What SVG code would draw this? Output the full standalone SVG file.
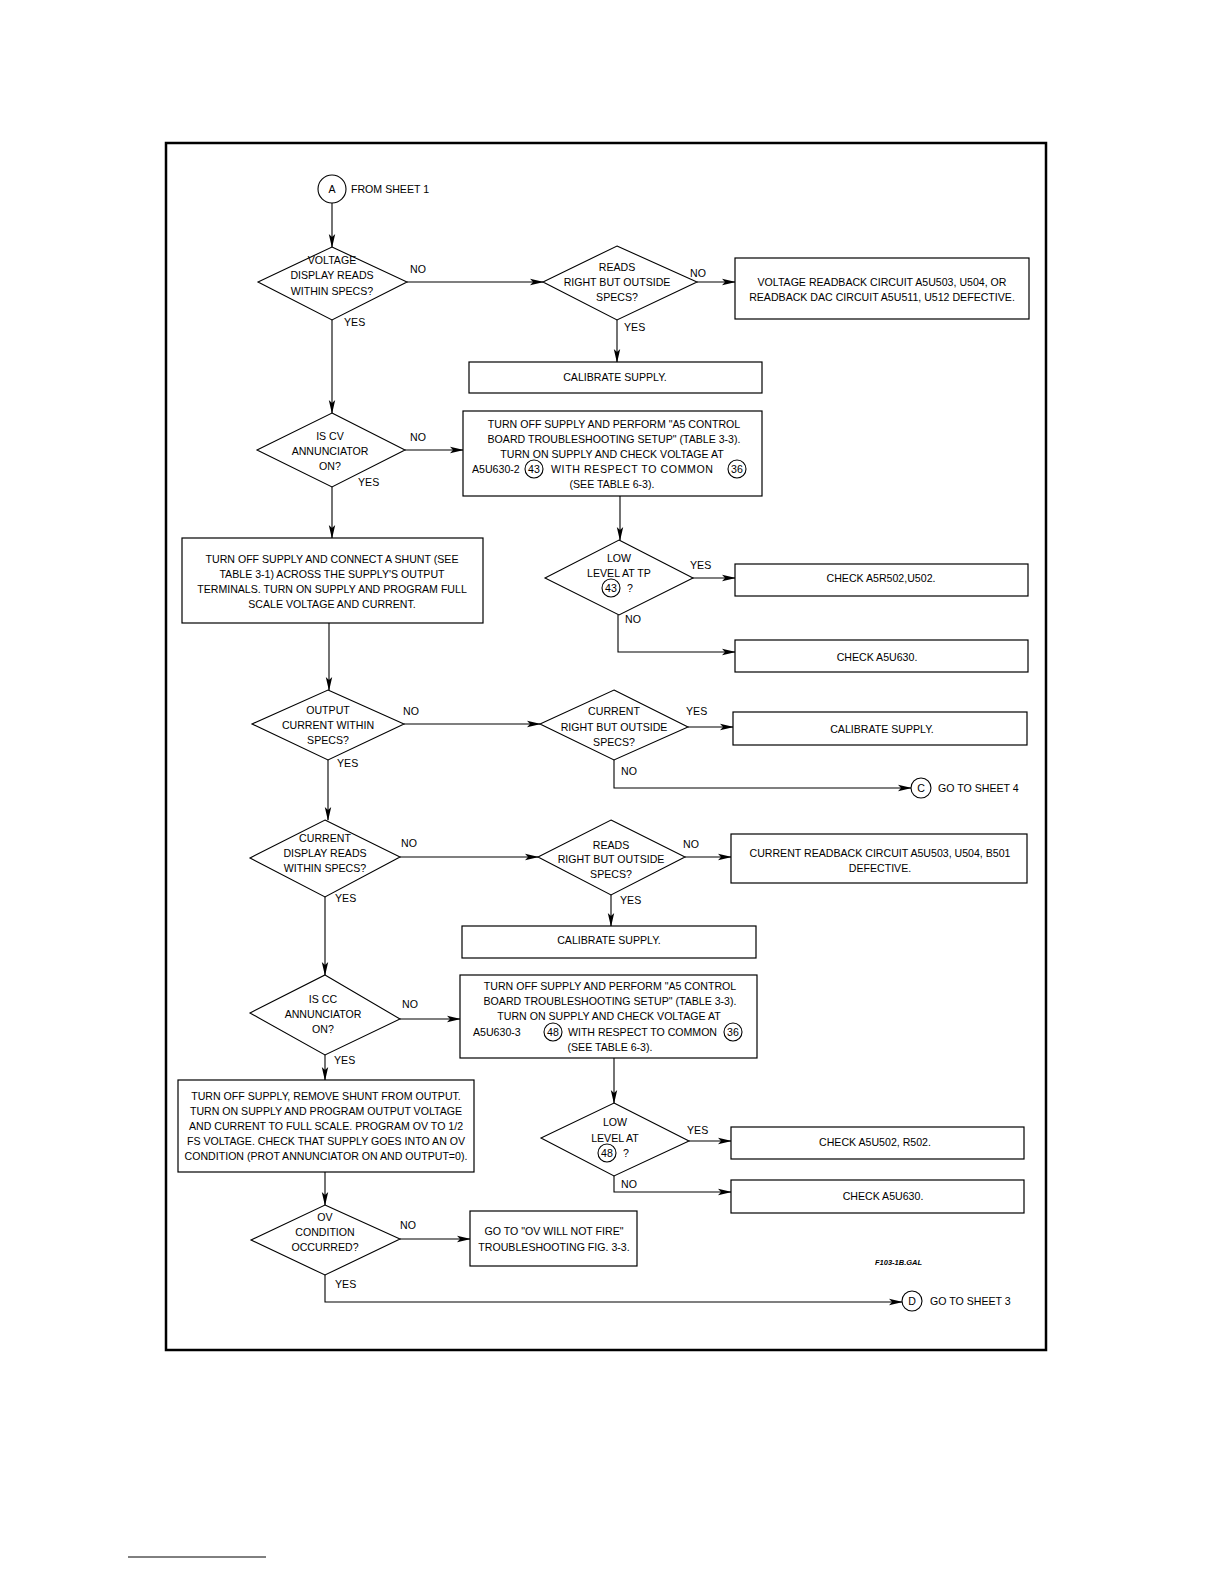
<svg xmlns="http://www.w3.org/2000/svg" width="1224" height="1584" viewBox="0 0 1224 1584">
<defs>
<marker id="ah" markerWidth="14" markerHeight="8" refX="13" refY="4" orient="auto" markerUnits="userSpaceOnUse">
<path d="M0,0.8 L14,4 L0,7.2 L3,4 Z" fill="#000"/>
</marker>
</defs>
<style>
text{font-family:"Liberation Sans",Arial,sans-serif;font-size:10.6px;fill:#000;}
.c{text-anchor:middle;}
.box{fill:#fff;stroke:#000;stroke-width:1.2;}
.dia{fill:#fff;stroke:#000;stroke-width:1.1;}
.ln{fill:none;stroke:#000;stroke-width:1.1;}
.ar{fill:none;stroke:#000;stroke-width:1.1;marker-end:url(#ah);}
.cir{fill:#fff;stroke:#000;stroke-width:1.1;}
</style>
<rect width="1224" height="1584" fill="#fff"/>
<rect x="166" y="143" width="880" height="1207" fill="none" stroke="#000" stroke-width="2.5"/>
<line x1="128" y1="1557" x2="266" y2="1557" stroke="#000" stroke-width="1"/>

<g id="connectors">
<line class="ar" x1="332" y1="203" x2="332" y2="247"/>
<line class="ar" x1="407" y1="282" x2="543" y2="282"/>
<line class="ar" x1="697" y1="282" x2="735" y2="282"/>
<line class="ar" x1="617" y1="320" x2="617" y2="362"/>
<line class="ar" x1="332" y1="320" x2="332" y2="413"/>
<line class="ar" x1="405" y1="450" x2="463" y2="450"/>
<line class="ar" x1="620" y1="496" x2="620" y2="540"/>
<line class="ar" x1="692" y1="578" x2="735" y2="578"/>
<polyline class="ar" points="618,615 618,652 735,652"/>
<line class="ar" x1="332" y1="487" x2="332" y2="538"/>
<line class="ar" x1="329" y1="623" x2="329" y2="690"/>
<line class="ar" x1="404" y1="724" x2="540" y2="724"/>
<line class="ar" x1="688" y1="727" x2="733" y2="727"/>
<polyline class="ar" points="614,760 614,788 911,788"/>
<line class="ar" x1="328" y1="760" x2="328" y2="820"/>
<line class="ar" x1="400" y1="857" x2="538" y2="857"/>
<line class="ar" x1="685" y1="857" x2="731" y2="857"/>
<line class="ar" x1="611" y1="895" x2="611" y2="926"/>
<line class="ar" x1="325" y1="897" x2="325" y2="975"/>
<line class="ar" x1="400" y1="1019" x2="460" y2="1019"/>
<line class="ar" x1="614" y1="1058" x2="614" y2="1103"/>
<line class="ar" x1="689" y1="1141" x2="731" y2="1141"/>
<polyline class="ar" points="614,1176 614,1192 731,1192"/>
<line class="ar" x1="325" y1="1055" x2="325" y2="1080"/>
<line class="ar" x1="325" y1="1172" x2="325" y2="1205"/>
<line class="ar" x1="400" y1="1239" x2="470" y2="1239"/>
<polyline class="ar" points="325,1275 325,1302 902,1302"/>
<text x="410" y="273">NO</text>
<text x="690" y="277">NO</text>
<text x="344" y="326">YES</text>
<text x="624" y="331">YES</text>
<text x="410" y="441">NO</text>
<text x="358" y="486">YES</text>
<text x="690" y="569">YES</text>
<text x="625" y="623">NO</text>
<text x="403" y="715">NO</text>
<text x="686" y="715">YES</text>
<text x="337" y="767">YES</text>
<text x="621" y="775">NO</text>
<text x="401" y="847">NO</text>
<text x="683" y="848">NO</text>
<text x="335" y="902">YES</text>
<text x="620" y="904">YES</text>
<text x="402" y="1008">NO</text>
<text x="334" y="1064">YES</text>
<text x="687" y="1134">YES</text>
<text x="621" y="1188">NO</text>
<text x="400" y="1229">NO</text>
<text x="335" y="1288">YES</text>
</g>

<g id="startA">
<circle class="cir" cx="332" cy="189" r="14"/>
<text class="c" x="332" y="193">A</text>
<text x="351" y="193">FROM SHEET 1</text>
</g>

<g id="d1">
<polygon class="dia" points="332,247 407,282 332,320 258,282"/>
<text class="c" x="332" y="264">VOLTAGE</text>
<text class="c" x="332" y="279">DISPLAY READS</text>
<text class="c" x="332" y="295">WITHIN SPECS?</text>
</g>

<g id="d2">
<polygon class="dia" points="617,246 697,282 617,320 543,282"/>
<text class="c" x="617" y="271">READS</text>
<text class="c" x="617" y="286">RIGHT BUT OUTSIDE</text>
<text class="c" x="617" y="301">SPECS?</text>
</g>

<g id="b1">
<rect class="box" x="735" y="258" width="294" height="61"/>
<text class="c" x="882" y="286">VOLTAGE READBACK CIRCUIT A5U503, U504, OR</text>
<text class="c" x="882" y="301">READBACK DAC CIRCUIT A5U511, U512 DEFECTIVE.</text>
</g>

<g id="b2">
<rect class="box" x="469" y="362" width="293" height="31"/>
<text class="c" x="615" y="381">CALIBRATE SUPPLY.</text>
</g>

<g id="d3">
<polygon class="dia" points="332,413 405,450 332,487 257,450"/>
<text class="c" x="330" y="440">IS CV</text>
<text class="c" x="330" y="455">ANNUNCIATOR</text>
<text class="c" x="330" y="470">ON?</text>
</g>

<g id="b3">
<rect class="box" x="463" y="411" width="299" height="85"/>
<text class="c" x="614" y="428">TURN OFF SUPPLY AND PERFORM "A5 CONTROL</text>
<text class="c" x="614" y="443">BOARD TROUBLESHOOTING SETUP" (TABLE 3-3).</text>
<text class="c" x="612" y="458">TURN ON SUPPLY AND CHECK VOLTAGE AT</text>
<text x="472" y="473">A5U630-2</text>
<circle class="cir" cx="534" cy="469" r="9"/>
<text class="c" x="534" y="473">43</text>
<text x="551" y="473" textLength="162" lengthAdjust="spacing">WITH RESPECT TO COMMON</text>
<circle class="cir" cx="737" cy="469" r="9"/>
<text class="c" x="737" y="473">36</text>
<text class="c" x="612" y="488">(SEE TABLE 6-3).</text>
</g>

<g id="d4">
<polygon class="dia" points="619,540 693,578 619,615 545,578"/>
<text class="c" x="619" y="562">LOW</text>
<text class="c" x="619" y="577">LEVEL AT TP</text>
<circle class="cir" cx="611" cy="588" r="9"/>
<text class="c" x="611" y="592">43</text>
<text x="627" y="592">?</text>
</g>

<g id="b4">
<rect class="box" x="735" y="564" width="293" height="32"/>
<text class="c" x="881" y="582">CHECK A5R502,U502.</text>
</g>

<g id="b5">
<rect class="box" x="735" y="640" width="293" height="32"/>
<text class="c" x="877" y="661">CHECK A5U630.</text>
</g>

<g id="b6">
<rect class="box" x="182" y="538" width="301" height="85"/>
<text class="c" x="332" y="563">TURN OFF SUPPLY AND CONNECT A SHUNT (SEE</text>
<text class="c" x="332" y="578">TABLE 3-1) ACROSS THE SUPPLY'S OUTPUT</text>
<text class="c" x="332" y="593">TERMINALS. TURN ON SUPPLY AND PROGRAM FULL</text>
<text class="c" x="332" y="608">SCALE VOLTAGE AND CURRENT.</text>
</g>

<g id="d5">
<polygon class="dia" points="328,690 404,724 328,760 252,724"/>
<text class="c" x="328" y="714">OUTPUT</text>
<text class="c" x="328" y="729">CURRENT WITHIN</text>
<text class="c" x="328" y="744">SPECS?</text>
</g>

<g id="d6">
<polygon class="dia" points="614,690 688,727 614,760 540,724"/>
<text class="c" x="614" y="715">CURRENT</text>
<text class="c" x="614" y="731">RIGHT BUT OUTSIDE</text>
<text class="c" x="614" y="746">SPECS?</text>
</g>

<g id="b7">
<rect class="box" x="733" y="712" width="294" height="33"/>
<text class="c" x="882" y="733">CALIBRATE SUPPLY.</text>
</g>

<g id="endC">
<circle class="cir" cx="921" cy="788" r="10"/>
<text class="c" x="921" y="792">C</text>
<text x="938" y="792">GO TO SHEET 4</text>
</g>

<g id="d7">
<polygon class="dia" points="325,820 400,857 325,897 250,858"/>
<text class="c" x="325" y="842">CURRENT</text>
<text class="c" x="325" y="857">DISPLAY READS</text>
<text class="c" x="325" y="872">WITHIN SPECS?</text>
</g>

<g id="d8">
<polygon class="dia" points="611,820 685,857 611,895 538,857"/>
<text class="c" x="611" y="849">READS</text>
<text class="c" x="611" y="863">RIGHT BUT OUTSIDE</text>
<text class="c" x="611" y="878">SPECS?</text>
</g>

<g id="b8">
<rect class="box" x="731" y="834" width="296" height="49"/>
<text class="c" x="880" y="857">CURRENT READBACK CIRCUIT A5U503, U504, B501</text>
<text class="c" x="880" y="872">DEFECTIVE.</text>
</g>

<g id="b9">
<rect class="box" x="462" y="926" width="294" height="32"/>
<text class="c" x="609" y="944">CALIBRATE SUPPLY.</text>
</g>

<g id="d9">
<polygon class="dia" points="325,975 400,1019 325,1055 250,1013"/>
<text class="c" x="323" y="1003">IS CC</text>
<text class="c" x="323" y="1018">ANNUNCIATOR</text>
<text class="c" x="323" y="1033">ON?</text>
</g>

<g id="b10">
<rect class="box" x="460" y="975" width="297" height="83"/>
<text class="c" x="610" y="990">TURN OFF SUPPLY AND PERFORM "A5 CONTROL</text>
<text class="c" x="610" y="1005">BOARD TROUBLESHOOTING SETUP" (TABLE 3-3).</text>
<text class="c" x="609" y="1020">TURN ON SUPPLY AND CHECK VOLTAGE AT</text>
<text x="473" y="1036">A5U630-3</text>
<circle class="cir" cx="553" cy="1032" r="9"/>
<text class="c" x="553" y="1036">48</text>
<text x="568" y="1036" textLength="149" lengthAdjust="spacing">WITH RESPECT TO COMMON</text>
<circle class="cir" cx="733" cy="1032" r="9"/>
<text class="c" x="733" y="1036">36</text>
<text class="c" x="610" y="1051">(SEE TABLE 6-3).</text>
</g>

<g id="d10">
<polygon class="dia" points="614,1103 689,1141 614,1176 541,1138"/>
<text class="c" x="615" y="1126">LOW</text>
<text class="c" x="615" y="1142">LEVEL AT</text>
<circle class="cir" cx="607" cy="1153" r="9"/>
<text class="c" x="607" y="1157">48</text>
<text x="623" y="1157">?</text>
</g>

<g id="b11">
<rect class="box" x="731" y="1127" width="293" height="32"/>
<text class="c" x="875" y="1146">CHECK A5U502, R502.</text>
</g>

<g id="b12">
<rect class="box" x="731" y="1180" width="293" height="33"/>
<text class="c" x="883" y="1200">CHECK A5U630.</text>
</g>

<g id="b13">
<rect class="box" x="178" y="1080" width="296" height="92"/>
<text class="c" x="326" y="1100">TURN OFF SUPPLY, REMOVE SHUNT FROM OUTPUT.</text>
<text class="c" x="326" y="1115">TURN ON SUPPLY AND PROGRAM OUTPUT VOLTAGE</text>
<text class="c" x="326" y="1130">AND CURRENT TO FULL SCALE. PROGRAM OV TO 1/2</text>
<text class="c" x="326" y="1145">FS VOLTAGE. CHECK THAT SUPPLY GOES INTO AN OV</text>
<text class="c" x="326" y="1160">CONDITION (PROT ANNUNCIATOR ON AND OUTPUT=0).</text>
</g>

<g id="d11">
<polygon class="dia" points="325,1205 400,1239 325,1275 251,1240"/>
<text class="c" x="325" y="1221">OV</text>
<text class="c" x="325" y="1236">CONDITION</text>
<text class="c" x="325" y="1251">OCCURRED?</text>
</g>

<g id="b14">
<rect class="box" x="470" y="1211" width="167" height="55"/>
<text class="c" x="554" y="1235">GO TO "OV WILL NOT FIRE"</text>
<text class="c" x="554" y="1251">TROUBLESHOOTING FIG. 3-3.</text>
</g>

<g id="endD">
<circle class="cir" cx="912" cy="1301" r="10"/>
<text class="c" x="912" y="1305">D</text>
<text x="930" y="1305">GO TO SHEET 3</text>
</g>

<text x="875" y="1265" style="font-size:7.5px;font-style:italic;font-weight:bold">F103-1B.GAL</text>
</svg>
